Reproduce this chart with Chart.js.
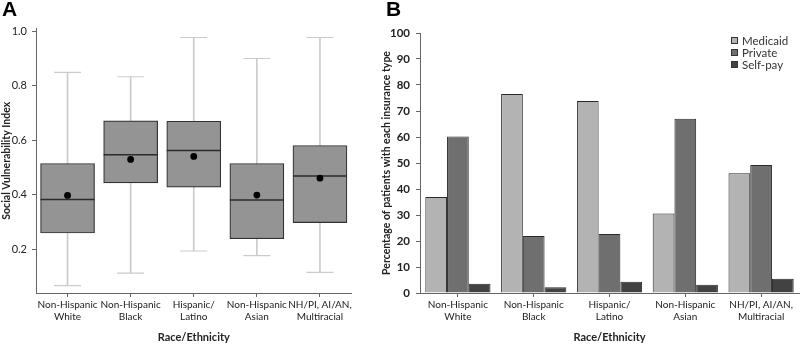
<!DOCTYPE html>
<html lang="en">
<head>
  <meta charset="UTF-8" />
  <title>Social vulnerability and insurance type by race/ethnicity</title>
  <script src="https://cdn.jsdelivr.net/npm/chart.js"></script>
  <style>
    body { margin: 0; background: #fff; }
    .wrap { position: relative; width: 800px; height: 344px; overflow: hidden; }
    canvas { position: absolute; top: 0; }
    .tag { position: absolute; top: -3px; font: bold 21px 'Liberation Sans', Arial, sans-serif; color: #000; }
    #legendB { position: absolute; left: 731px; top: 35px; font: 11.5px Lato, sans-serif; color: #333; }
    #legendB div { height: 12px; line-height: 12px; white-space: nowrap; }
    #legendB span { display: inline-block; width: 5px; height: 5px; border: 1px solid #333; margin-right: 4px; vertical-align: 1px; }
  </style>
</head>
<body>
  <div class="wrap">
    <canvas id="chartA" width="380" height="344" style="left:0"></canvas>
    <canvas id="chartB" width="420" height="344" style="left:380px"></canvas>
    <div class="tag" style="left:2px">A</div>
    <div class="tag" style="left:386px">B</div>
    <div id="legendB"></div>
  </div>

  <script>
    // categories shared by both panels
    const groups = [
      ['Non-Hispanic', 'White'],
      ['Non-Hispanic', 'Black'],
      ['Hispanic/', 'Latino'],
      ['Non-Hispanic', 'Asian'],
      ['NH/PI, AI/AN,', 'Multiracial']
    ];

    // panel A: box plot of social vulnerability index
    const sviMin    = [0.067, 0.113, 0.194, 0.177, 0.116];
    const sviQ1     = [0.260, 0.444, 0.428, 0.239, 0.298];
    const sviMedian = [0.383, 0.547, 0.563, 0.381, 0.469];
    const sviQ3     = [0.515, 0.671, 0.670, 0.515, 0.581];
    const sviMax    = [0.849, 0.833, 0.977, 0.900, 0.977];
    const sviMean   = [0.398, 0.530, 0.541, 0.399, 0.461];
    const sviTicks  = [0.2, 0.4, 0.6, 0.8, 1.0];

    // panel B: % of patients with each insurance type
    const medicaid   = [36.9, 76.5, 73.8, 30.6, 46.1];
    const privateIns = [60.2, 21.9, 22.7, 67.0, 49.2];
    const selfPay    = [3.6, 2.2, 4.3, 3.2, 5.5];

    Chart.defaults.font.family = "Lato, 'Open Sans', sans-serif";
    Chart.defaults.color = '#222';
    Chart.defaults.animation = false;
    Chart.defaults.plugins.legend.display = false;
    Chart.defaults.plugins.tooltip.enabled = false;

    const axisColor = '#666';
    const whisker = '#cbcbcb';
    const titleFont = { size: 11, weight: 'bold' };
    const catFont = { size: 10 };

    new Chart(document.getElementById('chartA'), {
      type: 'bar',
      data: {
        labels: groups,
        datasets: [
          { // whisker line, min..max, mostly hidden behind the box
            data: groups.map((g, i) => [sviMin[i], sviMax[i]]),
            backgroundColor: whisker, barThickness: 1, grouped: false, order: 5
          },
          { // box q1..q3
            data: groups.map((g, i) => [sviQ1[i], sviQ3[i]]),
            backgroundColor: '#949494', borderColor: '#333', borderWidth: 1.2,
            borderSkipped: false, barThickness: 54, grouped: false, order: 4
          },
          { type: 'line', data: sviMin, showLine: false, pointStyle: 'line', pointRadius: 13.5,
            borderColor: whisker, pointBorderWidth: 1.2, order: 3 },
          { type: 'line', data: sviMax, showLine: false, pointStyle: 'line', pointRadius: 13.5,
            borderColor: whisker, pointBorderWidth: 1.2, order: 3 },
          { type: 'line', data: sviMedian, showLine: false, pointStyle: 'line', pointRadius: 27,
            borderColor: '#2b2b2b', pointBorderWidth: 1.5, order: 2 },
          { type: 'line', data: sviMean, showLine: false, pointStyle: 'circle', pointRadius: 3.4,
            backgroundColor: '#000', borderColor: '#000', pointBorderWidth: 0, order: 1 }
        ]
      },
      options: {
        responsive: false,
        devicePixelRatio: 1,
        layout: { padding: { top: 24, right: 23, left: 0, bottom: 0 } },
        scales: {
          x: {
            grid: { drawOnChartArea: false, offset: false, tickLength: 4, color: axisColor },
            border: { color: axisColor },
            ticks: { font: catFont, padding: 2, maxRotation: 0, autoSkip: false },
            title: { display: true, text: 'Race/Ethnicity', font: titleFont, padding: 0 },
            afterFit: s => { s.height = 51; }
          },
          y: {
            min: 0.04, max: 1.01,
            afterBuildTicks: s => { s.ticks = sviTicks.map(v => ({ value: v })); },
            grid: { drawOnChartArea: false, tickLength: 4, color: axisColor },
            border: { color: axisColor },
            ticks: { font: { size: 11 }, padding: 5, callback: v => v.toFixed(1) },
            title: { display: true, text: 'Social Vulnerability Index', font: { size: 10.5, weight: 'bold' }, padding: 0 },
            afterFit: s => { s.width = 36; }
          }
        }
      }
    });

    const chartB = new Chart(document.getElementById('chartB'), {
      type: 'bar',
      data: {
        labels: groups,
        datasets: [
          { label: 'Medicaid', data: medicaid, backgroundColor: '#b3b3b3' },
          { label: 'Private', data: privateIns, backgroundColor: '#6f6f6f' },
          { label: 'Self-pay', data: selfPay, backgroundColor: '#424242' }
        ]
      },
      options: {
        responsive: false,
        devicePixelRatio: 1,
        layout: { padding: { top: 33, right: 1, left: 0, bottom: 0 } },
        datasets: {
          bar: { borderColor: '#2a2a2a', borderWidth: 1, categoryPercentage: 0.86, barPercentage: 1 }
        },
        scales: {
          x: {
            grid: { drawOnChartArea: false, offset: false, tickLength: 4, color: axisColor },
            border: { color: axisColor },
            ticks: { font: catFont, padding: 2, maxRotation: 0, autoSkip: false },
            title: { display: true, text: 'Race/Ethnicity', font: titleFont, padding: 0 },
            afterFit: s => { s.height = 51; }
          },
          y: {
            min: 0, max: 100,
            grid: { drawOnChartArea: false, tickLength: 4, color: axisColor },
            border: { color: axisColor },
            ticks: { stepSize: 10, font: { size: 11.5, weight: 'bold' }, padding: 6 },
            title: { display: true, text: 'Percentage of patients with each insurance type', font: { size: 10.5, weight: 'bold' }, padding: 0 },
            afterFit: s => { s.width = 40; }
          }
        }
      }
    });

    // small legend in the top-right corner of panel B
    document.getElementById('legendB').innerHTML = chartB.data.datasets
      .map(d => `<div><span style="background:${d.backgroundColor}"></span>${d.label}</div>`)
      .join('');
  </script>
</body>
</html>
